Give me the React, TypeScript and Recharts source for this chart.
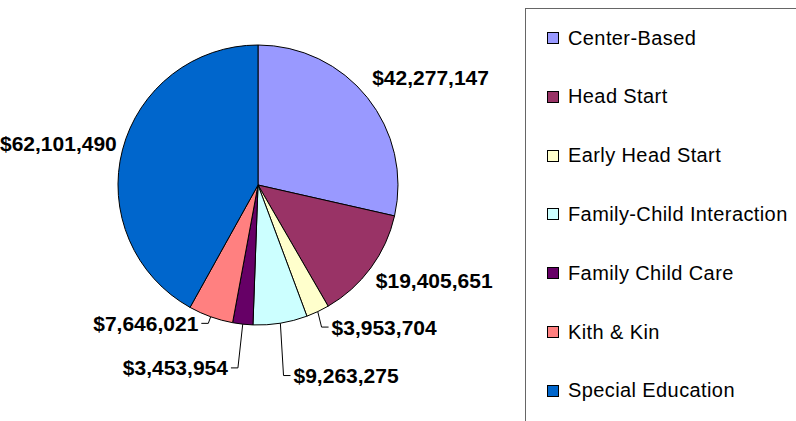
import React from 'react';
import { PieChart, Pie, Cell, Legend } from 'recharts';

const categories = [
  'Center-Based',
  'Head Start',
  'Early Head Start',
  'Family-Child Interaction',
  'Family Child Care',
  'Kith & Kin',
  'Special Education',
];
const amounts = [42277147, 19405651, 3953704, 9263275, 3453954, 7646021, 62101490];
const colors = ['#9999FF', '#993366', '#FFFFCC', '#CCFFFF', '#660066', '#FF8080', '#0066CC'];

// how each slice label is placed: plain text or with a leader line
const labelStyle = [
  { line: false, r: 150, dx: -3, dy: -14 },
  { line: false, r: 150, dx: -3, dy: 7 },
  { line: true, r: 156, dx: -3, dy: 1 },
  { line: true, r: 191, dx: -5, dy: 2 },
  { line: true, r: 184, dx: 0, dy: 0 },
  { line: true, r: 147, dx: 0, dy: 0 },
  { line: false, r: 150, dx: 4, dy: -4 },
];

const data = categories.map((name, i) => ({ name, value: amounts[i] }));

const RAD = Math.PI / 180;
const fmt = (v: number) => '$' + v.toLocaleString('en-US');

const renderLabel = (props: any) => {
  const { cx, cy, midAngle, outerRadius, index, value } = props;
  const s = labelStyle[index];
  const cos = Math.cos(-midAngle * RAD);
  const sin = Math.sin(-midAngle * RAD);
  const textProps = {
    fontFamily: '"Liberation Sans", Arial, sans-serif',
    fontWeight: 'bold' as const,
    fontSize: 21,
    fill: '#000',
    dominantBaseline: 'central' as const,
  };
  if (!s.line) {
    const x = cx + s.r * cos + s.dx;
    const y = cy + s.r * sin + s.dy;
    return (
      <text key={index} x={x} y={y} textAnchor={cos >= 0 ? 'start' : 'end'} {...textProps}>
        {fmt(value)}
      </text>
    );
  }
  const ex = cx + outerRadius * cos;
  const ey = cy + outerRadius * sin;
  const mx = cx + s.r * cos + s.dx;
  const my = cy + s.r * sin + s.dy;
  const dir = cos >= 0 ? 1 : -1;
  const tx = mx + dir * 7;
  return (
    <g key={index}>
      <polyline points={`${ex},${ey} ${mx},${my} ${tx},${my}`} fill="none" stroke="#000" strokeWidth={1} />
      <text x={tx + dir * 3} y={my} textAnchor={dir > 0 ? 'start' : 'end'} {...textProps}>
        {fmt(value)}
      </text>
    </g>
  );
};

const renderLegend = () => (
  <div
    style={{
      position: 'relative',
      width: 290,
      height: 430,
      border: '1px solid #666',
      boxSizing: 'border-box',
      background: '#fff',
    }}
  >
    {categories.map((name, i) => (
      <div
        key={name}
        style={{
          position: 'absolute',
          left: 21,
          top: 29 + i * 58.8 - 12,
          height: 24,
          display: 'flex',
          alignItems: 'center',
          whiteSpace: 'nowrap',
        }}
      >
        <span
          style={{
            display: 'inline-block',
            width: 10,
            height: 10,
            background: colors[i],
            border: '1.5px solid #000',
            marginRight: 9,
          }}
        />
        <span
          style={{
            fontFamily: '"Liberation Sans", Arial, sans-serif',
            fontSize: 20,
            letterSpacing: 0.4,
            color: '#000',
          }}
        >
          {name}
        </span>
      </div>
    ))}
  </div>
);

export default function App() {
  return (
    <div style={{ position: 'absolute', left: 0, top: 0, width: 796, height: 421, overflow: 'hidden', background: '#fff' }}>
      <PieChart width={796} height={421} margin={{ top: 0, right: 0, bottom: 0, left: 0 }}>
        <Pie
          data={data}
          dataKey="value"
          nameKey="name"
          cx={258}
          cy={185}
          outerRadius={140}
          startAngle={90}
          endAngle={-270}
          stroke="#000"
          strokeWidth={1}
          label={renderLabel}
          labelLine={false}
          isAnimationActive={false}
        >
          {data.map((d, i) => (
            <Cell key={d.name} fill={colors[i]} />
          ))}
        </Pie>
        <Legend
          content={renderLegend}
          wrapperStyle={{ position: 'absolute', left: 525, top: 8, width: 290, height: 430 }}
        />
      </PieChart>
    </div>
  );
}
